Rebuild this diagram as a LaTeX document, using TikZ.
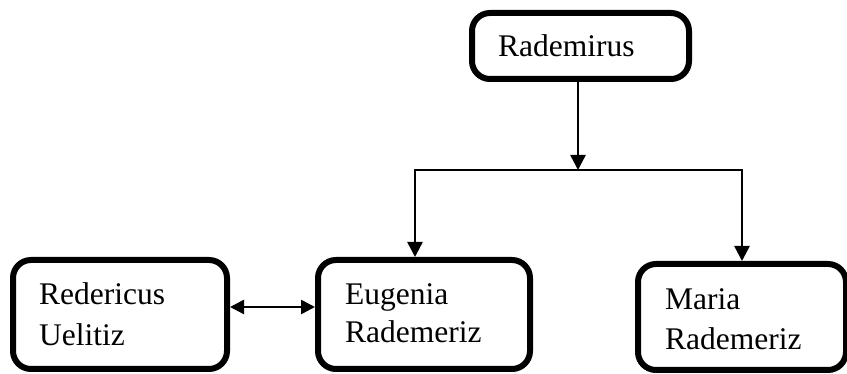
\documentclass[tikz,border=0pt]{standalone}
\usepackage{fontspec}
\setmainfont{Liberation Serif}
\usetikzlibrary{arrows.meta}
\begin{document}
\begin{tikzpicture}[x=1pt,y=-1pt,
  box/.style={draw=black, line width=6pt, rounded corners=18pt, fill=white, inner sep=0pt},
  lbl/.style={anchor=base west, inner sep=0pt, font=\fontsize{31.5}{38}\selectfont},
  arr/.style={line width=2.5pt, -{Triangle[length=15pt,width=15pt]}},
  darr/.style={line width=2.5pt, {Triangle[length=14pt,width=14pt]}-{Triangle[length=14pt,width=14pt]}}]
\useasboundingbox (0,0) rectangle (847,374);
% boxes
\node[box, minimum width=217pt, minimum height=66pt] (rad) at (580.5,46) {};
\node[box, minimum width=214pt, minimum height=109pt] (red) at (120,314.5) {};
\node[box, minimum width=212pt, minimum height=109pt] (eug) at (424,314.5) {};
\node[box, minimum width=208pt, minimum height=106pt] (mar) at (742,317) {};
% labels
\node[lbl] (t1) at (498,57) {Rademirus};
\node[lbl] (t2) at (39,305) {Redericus};
\node[lbl] (t3) at (39,345) {Uelitiz};
\node[lbl] (t4) at (345,305) {Eugenia};
\node[lbl] (t5) at (345,343) {Rademeriz};
\node[lbl] (t6) at (665,310) {Maria};
\node[lbl] (t7) at (665,350) {Rademeriz};
% connectors
\coordinate (stem) at (578,170);
\coordinate (bl) at (415,170);
\coordinate (br) at (742,170);
\coordinate (dy) at (0,307);
\draw[arr] (rad.south -| stem) -- (stem);
\draw[line width=2.5pt, line cap=rect] (bl) -- (br);
\draw[arr] (bl) -- (eug.north -| bl);
\draw[arr] (br) -- (mar.north -| br);
\draw[darr] (red.east |- dy) -- (eug.west |- dy);
\end{tikzpicture}
\end{document}
